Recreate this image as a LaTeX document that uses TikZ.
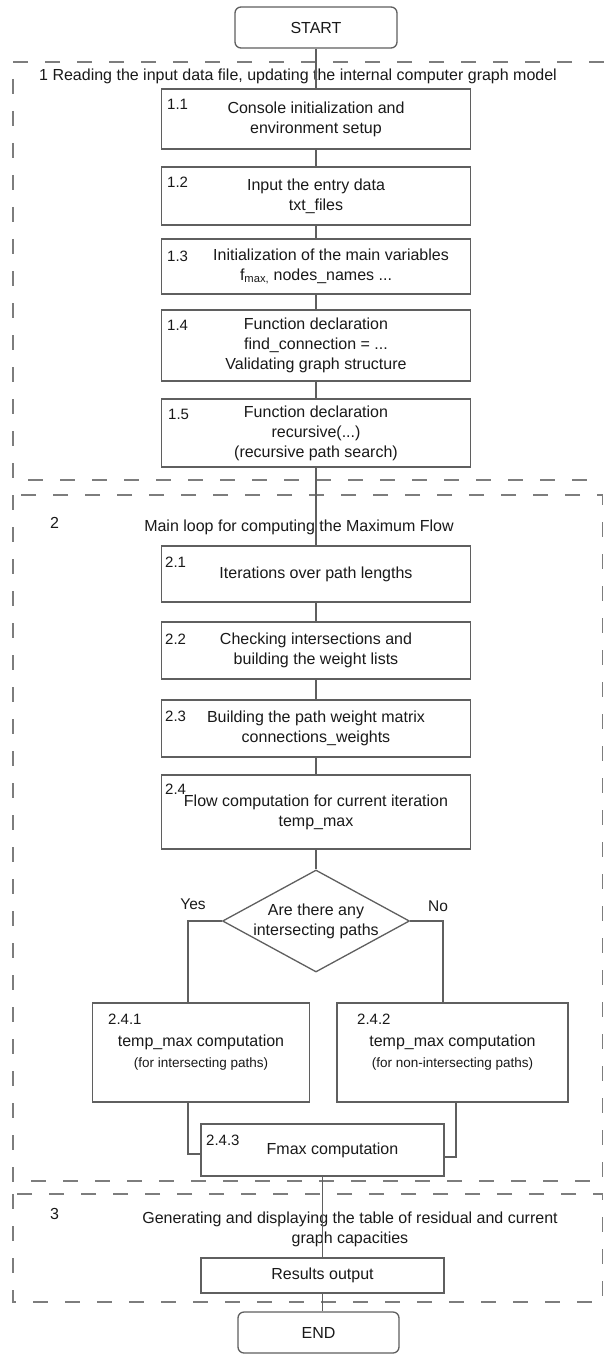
\documentclass[tikz,border=0pt]{standalone}
\usepackage{fontspec}
\setmainfont{Liberation Sans}
\usetikzlibrary{shapes.geometric}
\definecolor{boxline}{RGB}{95,95,95}
\definecolor{dashline}{RGB}{125,125,125}
\definecolor{txt}{RGB}{25,25,25}
\begin{document}
\begin{tikzpicture}[x=1pt,y=-1pt,
  proc/.style={draw=boxline, line width=1.3pt, fill=white, rectangle, inner sep=0pt,
    align=center, text=txt, font=\fontsize{16}{20}\selectfont},
  term/.style={proc, rounded corners=6pt},
  lbl/.style={anchor=west, inner sep=0pt, text=txt, font=\fontsize{15}{18}\selectfont},
  conn/.style={draw=boxline, line width=1.2pt},
  section/.style={draw=dashline, line width=1.5pt, dash pattern=on 15pt off 17pt},
  title/.style={inner sep=0pt, text=txt, font=\fontsize{16}{20}\selectfont, align=center},
  yn/.style={inner sep=0pt, text=txt, font=\fontsize{15.5}{18}\selectfont},
]
\useasboundingbox (0,0) rectangle (604,1356);

% sections
\draw[section] (604,62) -- (13,62) -- (13,480) -- (604,480);
\draw[section] (13,495) rectangle (602.5,1181);
\draw[section] (13,1194) rectangle (602.5,1302);

% section titles
\node[title, anchor=west] (t1) at (39,76) {1 Reading the input data file, updating the internal computer graph model};
\node[title, anchor=west] (t2n) at (50,523) {2};
\node[title] (t2) at (299,527) {Main loop for computing the Maximum Flow};
\node[title, anchor=west] (t3n) at (50,1214) {3};
\node[title] (t3) at (350,1229) {Generating and displaying the table of residual and current\\graph capacities};

% terminals
\node[term, minimum width=162pt, minimum height=41pt] (start) at (316,27.5) {START};
\node[term, minimum width=161pt, minimum height=41pt] (endn) at (318.5,1332.5) {END};

% section 1 boxes
\node[proc, minimum width=309pt, minimum height=60pt] (b11) at (316,119) {Console initialization and\\environment setup};
\node[proc, minimum width=309pt, minimum height=58pt] (b12) at (316,196) {Input the entry data\\txt\_files};
\node[proc, minimum width=309pt, minimum height=55pt] (b13) at (316,266.5) {\hspace*{30pt}Initialization of the main variables\\f\textsubscript{max,} nodes\_names ...};
\node[proc, minimum width=309pt, minimum height=71pt] (b14) at (316,345.5) {Function declaration\\find\_connection = ...\\Validating graph structure};
\node[proc, minimum width=309pt, minimum height=68pt] (b15) at (316,433) {Function declaration\\recursive(...)\\(recursive path search)};

% section 2 boxes
\node[proc, minimum width=309pt, minimum height=56pt] (b21) at (316,574) {Iterations over path lengths};
\node[proc, minimum width=309pt, minimum height=57pt] (b22) at (316,650.5) {Checking intersections and\\building the weight lists};
\node[proc, minimum width=309pt, minimum height=57pt] (b23) at (316,728.5) {Building the path weight matrix\\connections\_weights};
\node[proc, minimum width=309pt, minimum height=74pt] (b24) at (316,812) {Flow computation for current iteration\\temp\_max};

\node[draw=boxline, line width=1.3pt, fill=white, diamond, minimum width=187pt, minimum height=102pt, inner sep=0pt] (dec) at (316,921) {};
\node[title] (dect) at (316,921) {Are there any\\intersecting paths};
\node[yn] (yes) at (193,904) {Yes};
\node[yn] (no) at (438,906) {No};

\node[proc, minimum width=217pt, minimum height=99pt] (b241) at (201,1052.5) {temp\_max computation\\[1pt]{\fontsize{13.5}{18}\selectfont (for intersecting paths)}};
\node[proc, minimum width=231pt, minimum height=99pt] (b242) at (452.5,1052.5) {temp\_max computation\\[1pt]{\fontsize{13.5}{18}\selectfont (for non-intersecting paths)}};
\node[proc, minimum width=243pt, minimum height=52pt] (b243) at (322.5,1150) {\hspace*{20pt}Fmax computation};

% section 3 box
\node[proc, minimum width=243pt, minimum height=35pt] (res) at (322.5,1275.5) {Results output};

% labels
\node[lbl] (l11) at (167,104) {1.1};
\node[lbl] (l12) at (167,182) {1.2};
\node[lbl] (l13) at (167,256) {1.3};
\node[lbl] (l14) at (167,325) {1.4};
\node[lbl] (l15) at (168,414) {1.5};
\node[lbl] (l21) at (165,562) {2.1};
\node[lbl] (l22) at (165,639) {2.2};
\node[lbl] (l23) at (165,716) {2.3};
\node[lbl] (l24) at (165,789) {2.4};
\node[lbl] (l241) at (108,1019) {2.4.1};
\node[lbl] (l242) at (357,1019) {2.4.2};
\node[lbl] (l243) at (206,1140) {2.4.3};

% connectors
\draw[conn] (start.south) -- (b11.north);
\draw[conn] (b11.south) -- (b12.north);
\draw[conn] (b12.south) -- (b13.north);
\draw[conn] (b13.south) -- (b14.north);
\draw[conn] (b14.south) -- (b15.north);
\draw[conn] (b15.south) -- (b21.north);
\draw[conn] (b21.south) -- (b22.north);
\draw[conn] (b22.south) -- (b23.north);
\draw[conn] (b23.south) -- (b24.north);
\draw[conn] (b24.south) -- (dec.north);
\draw[conn] (dec.west) -| ([xshift=-13pt]b241.north);
\draw[conn] (dec.east) -| ([xshift=-9.5pt]b242.north);
\draw[conn] ([xshift=-13pt]b241.south) |- ([yshift=-4pt]b243.west);
\draw[conn] ([xshift=3.5pt]b242.south) |- ([yshift=-7pt]b243.east);
\draw[conn] (b243.south) -- (res.north);
\draw[conn] (res.south) -- (res.south |- endn.north);
\end{tikzpicture}
\end{document}
